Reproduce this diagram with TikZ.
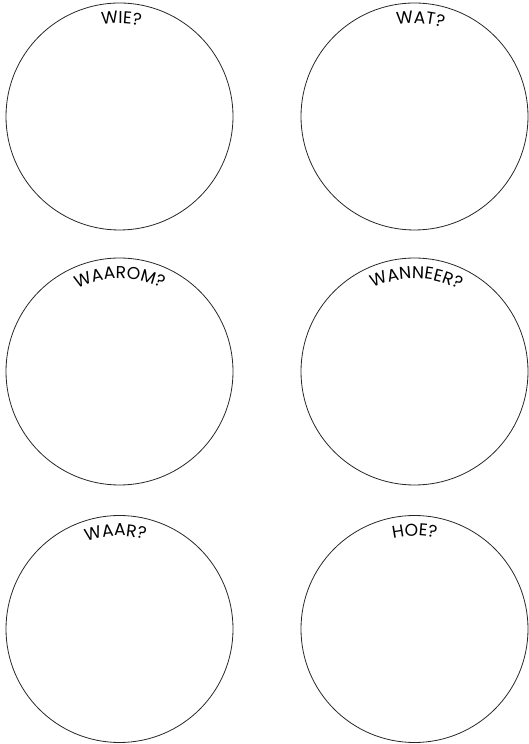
\documentclass[tikz,border=0pt]{standalone}
\usepackage{fontspec}
\setmainfont{Poppins}
\usetikzlibrary{decorations.text}
\tikzset{
  bubble/.style={circle, draw=black!85, line width=0.8pt, minimum size=227pt, inner sep=0pt},
  arclabel/.style={decorate, decoration={text along path, text align=center, text={|\fontsize{17.2}{17.2}\selectfont|#1}}}
}
\newcommand{\toplabel}[3]{% node, text, angle offset
  \path[arclabel={#2}] (#1.center) ++(180+#3:93pt) arc[start angle=180+#3, end angle=#3, radius=93pt];
}
\begin{document}
\begin{tikzpicture}[x=1pt,y=1pt]
\useasboundingbox (0,0) rectangle (528,744);
\node[bubble] (wie) at (119.5,627.5) {};
\node[bubble] (wat) at (414.5,627.5) {};
\node[bubble] (waarom) at (119.5,372.5) {};
\node[bubble] (wanneer) at (414.5,372.5) {};
\node[bubble] (waar) at (119.5,115) {};
\node[bubble] (hoe) at (414.5,115) {};
\toplabel{wie}{WIE?}{-1}
\toplabel{wat}{WAT?}{-3.5}
\toplabel{waarom}{WAAROM?}{0}
\toplabel{wanneer}{WANNEER?}{-1}
\toplabel{waar}{WAAR?}{2.5}
\toplabel{hoe}{HOE?}{0}
\end{tikzpicture}
\end{document}
